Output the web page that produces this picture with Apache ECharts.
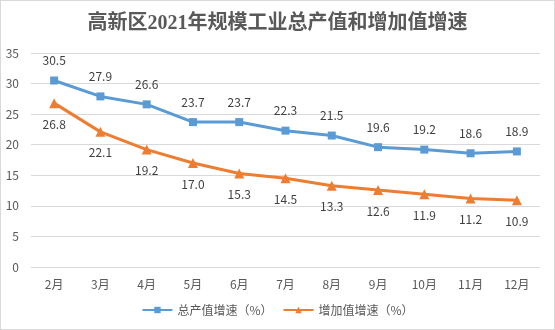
<!DOCTYPE html>
<html>
<head>
<meta charset="utf-8">
<script src="https://cdn.jsdelivr.net/npm/echarts@6/dist/echarts.min.js"></script>
<style>
  html, body { margin: 0; padding: 0; background: #fff; }
  #chart { width: 553px; height: 328px; border: 1px solid #d9d9d9; }
</style>
</head>
<body>
<div id="chart"></div>
<script>
// Monthly growth rates of large-scale industry, 2021
const months = ['2月', '3月', '4月', '5月', '6月', '7月', '8月', '9月', '10月', '11月', '12月'];
const outputGrowth = [30.5, 27.9, 26.6, 23.7, 23.7, 22.3, 21.5, 19.6, 19.2, 18.6, 18.9];
const addedValueGrowth = [26.8, 22.1, 19.2, 17.0, 15.3, 14.5, 13.3, 12.6, 11.9, 11.2, 10.9];
const seriesNames = ['总产值增速（%）', '增加值增速（%）'];

const chart = echarts.init(document.getElementById('chart'));
const labelFont = { fontFamily: 'Noto Sans CJK SC', fontSize: 12, color: '#404040' };

chart.setOption({
  animation: false,
  title: {
    text: '高新区2021年规模工业总产值和增加值增速',
    left: 'center',
    top: 8,
    textStyle: {
      fontFamily: '"Liberation Serif", "Noto Sans CJK SC"',
      fontSize: 20,
      fontWeight: 'bold',
      color: '#595959'
    }
  },
  grid: { left: 30, right: 14, top: 52, bottom: 62 },
  legend: {
    bottom: 8,
    left: 'center',
    itemWidth: 30,
    itemHeight: 8,
    itemGap: 10,
    textStyle: { fontFamily: 'Noto Sans CJK SC', fontSize: 12, color: '#595959' },
    data: seriesNames
  },
  xAxis: {
    type: 'category',
    data: months,
    boundaryGap: true,
    axisLine: { show: false },
    axisTick: { show: false },
    axisLabel: { fontFamily: 'Noto Sans CJK SC', fontSize: 12, color: '#595959', margin: 11 }
  },
  yAxis: {
    type: 'value',
    min: 0,
    max: 35,
    interval: 5,
    axisLine: { show: false },
    axisTick: { show: false },
    axisLabel: { fontFamily: 'Noto Sans CJK SC', fontSize: 12, color: '#595959', margin: 12 },
    splitLine: { lineStyle: { color: '#d9d9d9', width: 1 } }
  },
  series: [
    {
      name: seriesNames[0],
      type: 'line',
      data: outputGrowth,
      symbol: 'rect',
      symbolSize: 8,
      lineStyle: { color: '#5B9BD5', width: 3 },
      itemStyle: { color: '#5B9BD5' },
      label: {
        show: true,
        position: 'top',
        distance: 10,
        formatter: p => p.value.toFixed(1),
        ...labelFont
      }
    },
    {
      name: seriesNames[1],
      type: 'line',
      data: addedValueGrowth,
      symbol: 'triangle',
      symbolSize: 10,
      lineStyle: { color: '#ED7D31', width: 3 },
      itemStyle: { color: '#ED7D31' },
      label: {
        show: true,
        position: 'bottom',
        distance: 10,
        formatter: p => p.value.toFixed(1),
        ...labelFont
      }
    }
  ]
});
</script>
</body>
</html>
